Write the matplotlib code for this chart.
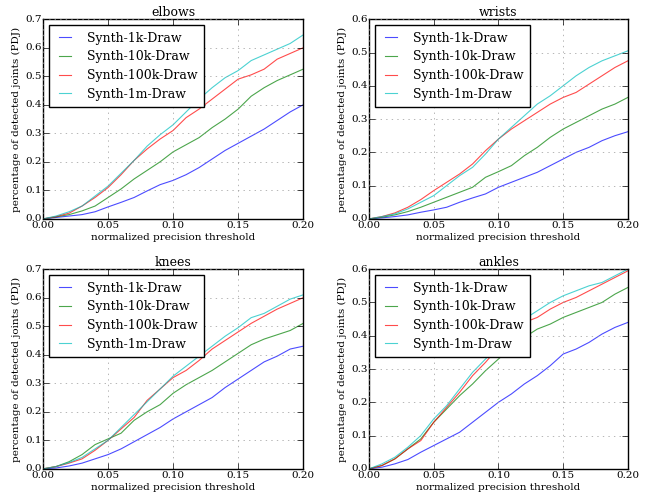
import matplotlib
matplotlib.use("Agg")
import matplotlib.pyplot as plt
import numpy as np

plt.style.use('classic')
plt.rcParams['font.family'] = ['DejaVu Serif']

x = [0.00, 0.01, 0.02, 0.03, 0.04, 0.05, 0.06, 0.07, 0.08, 0.09, 0.10,
     0.11, 0.12, 0.13, 0.14, 0.15, 0.16, 0.17, 0.18, 0.19, 0.20]
labels = ["Synth-1k-Draw", "Synth-10k-Draw", "Synth-100k-Draw", "Synth-1m-Draw"]
titles = ["elbows", "wrists", "knees", "ankles"]
ymaxes = [0.7, 0.6, 0.7, 0.6]

elbows_1k = [0, 0.005, 0.01, 0.015, 0.025, 0.042, 0.058, 0.075, 0.098, 0.12, 0.135, 0.155, 0.18, 0.21, 0.24, 0.265, 0.29, 0.315, 0.345, 0.375, 0.40]
elbows_10k = [0, 0.007, 0.015, 0.028, 0.045, 0.075, 0.105, 0.14, 0.17, 0.2, 0.235, 0.26, 0.285, 0.32, 0.35, 0.385, 0.43, 0.46, 0.485, 0.505, 0.525]
elbows_100k = [0, 0.008, 0.02, 0.045, 0.075, 0.11, 0.155, 0.205, 0.245, 0.28, 0.31, 0.355, 0.385, 0.42, 0.455, 0.49, 0.505, 0.525, 0.56, 0.58, 0.60]
elbows_1m = [0, 0.01, 0.025, 0.045, 0.08, 0.115, 0.16, 0.205, 0.255, 0.295, 0.33, 0.375, 0.42, 0.46, 0.495, 0.52, 0.555, 0.575, 0.595, 0.615, 0.645]

wrists_1k = [0, 0.003, 0.007, 0.012, 0.02, 0.027, 0.035, 0.05, 0.063, 0.075, 0.095, 0.11, 0.125, 0.14, 0.16, 0.18, 0.2, 0.215, 0.235, 0.25, 0.262]
wrists_10k = [0, 0.005, 0.012, 0.022, 0.035, 0.05, 0.065, 0.08, 0.095, 0.125, 0.142, 0.16, 0.19, 0.215, 0.245, 0.27, 0.29, 0.31, 0.33, 0.345, 0.365]
wrists_100k = [0, 0.007, 0.018, 0.035, 0.058, 0.085, 0.11, 0.135, 0.165, 0.205, 0.24, 0.27, 0.295, 0.32, 0.345, 0.365, 0.38, 0.405, 0.43, 0.455, 0.475]
wrists_1m = [0, 0.007, 0.015, 0.03, 0.05, 0.07, 0.1, 0.13, 0.155, 0.195, 0.24, 0.275, 0.31, 0.345, 0.37, 0.4, 0.43, 0.455, 0.475, 0.49, 0.505]

knees_1k = [0, 0.003, 0.01, 0.02, 0.035, 0.05, 0.07, 0.095, 0.12, 0.145, 0.175, 0.2, 0.225, 0.25, 0.285, 0.315, 0.345, 0.375, 0.395, 0.42, 0.43]
knees_10k = [0, 0.008, 0.025, 0.05, 0.085, 0.105, 0.125, 0.17, 0.2, 0.225, 0.265, 0.295, 0.32, 0.345, 0.375, 0.405, 0.435, 0.455, 0.47, 0.485, 0.51]
knees_100k = [0, 0.008, 0.02, 0.035, 0.065, 0.1, 0.14, 0.18, 0.24, 0.28, 0.32, 0.345, 0.38, 0.42, 0.45, 0.48, 0.51, 0.535, 0.56, 0.58, 0.60]
knees_1m = [0, 0.008, 0.022, 0.04, 0.07, 0.1, 0.145, 0.19, 0.235, 0.28, 0.325, 0.36, 0.395, 0.43, 0.465, 0.495, 0.53, 0.545, 0.57, 0.595, 0.61]

ankles_1k = [0, 0.005, 0.015, 0.028, 0.05, 0.07, 0.09, 0.11, 0.14, 0.17, 0.2, 0.225, 0.255, 0.28, 0.31, 0.345, 0.36, 0.38, 0.405, 0.425, 0.44]
ankles_10k = [0, 0.01, 0.03, 0.06, 0.09, 0.14, 0.18, 0.22, 0.255, 0.295, 0.33, 0.365, 0.395, 0.42, 0.435, 0.455, 0.47, 0.485, 0.5, 0.525, 0.545]
ankles_100k = [0, 0.01, 0.03, 0.06, 0.085, 0.14, 0.185, 0.23, 0.28, 0.32, 0.365, 0.405, 0.44, 0.455, 0.48, 0.5, 0.515, 0.535, 0.555, 0.575, 0.595]
ankles_1m = [0, 0.015, 0.035, 0.065, 0.1, 0.15, 0.19, 0.24, 0.29, 0.33, 0.37, 0.41, 0.45, 0.475, 0.5, 0.52, 0.535, 0.55, 0.56, 0.58, 0.60]

panels = [
    [elbows_1k, elbows_10k, elbows_100k, elbows_1m],
    [wrists_1k, wrists_10k, wrists_100k, wrists_1m],
    [knees_1k, knees_10k, knees_100k, knees_1m],
    [ankles_1k, ankles_10k, ankles_100k, ankles_1m],
]
colors = ['b', 'g', 'r', 'c']

fig = plt.figure(figsize=(6.52, 4.93), dpi=100, facecolor='white')
positions = [
    [0.066, 0.556, 0.399, 0.405],
    [0.566, 0.556, 0.397, 0.405],
    [0.066, 0.049, 0.399, 0.405],
    [0.566, 0.049, 0.397, 0.405],
]
for i in range(4):
    ax = fig.add_axes(positions[i])
    for j in range(4):
        ax.plot(x, panels[i][j], color=colors[j], lw=0.8, alpha=0.7, label=labels[j])
    ax.set_xlim(0, 0.2)
    ax.set_ylim(0, ymaxes[i])
    ax.set_xticks([0.0, 0.05, 0.10, 0.15, 0.20])
    ax.set_xticklabels(["0.00", "0.05", "0.10", "0.15", "0.20"])
    ax.set_yticks(np.arange(0, ymaxes[i] + 0.001, 0.1))
    ax.tick_params(labelsize=7.5)
    ax.tick_params(axis='x', pad=1.5)
    ax.tick_params(axis='y', pad=1)
    ax.grid(True, linestyle=':', color='0.6')
    ax.set_title(titles[i], fontsize=9, pad=2)
    ax.set_xlabel("normalized precision threshold", fontsize=7.5, labelpad=2)
    ax.set_ylabel("percentage of detected joints (PDJ)", fontsize=7.5, labelpad=3)
    leg = ax.legend(loc='upper left', fontsize=9, fancybox=False, frameon=True,
                    handlelength=1.5, handletextpad=1.0, borderpad=0.5,
                    labelspacing=0.45, borderaxespad=0.5)
    leg.get_frame().set_edgecolor('black')

fig.savefig("out.png", dpi=100, facecolor='white')
